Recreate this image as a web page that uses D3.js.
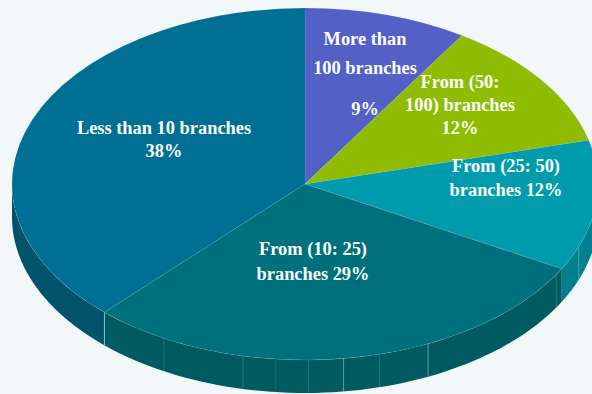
<!DOCTYPE html>
<html>
<head>
<meta charset="utf-8">
<script src="https://cdnjs.cloudflare.com/ajax/libs/d3/7.8.5/d3.min.js"></script>
<style>
html,body{margin:0;padding:0;background:#f2f7fa;overflow:hidden}
svg{display:block}
text{font-family:"Liberation Serif",serif;font-weight:700;fill:#fbfdfd;text-anchor:middle}
</style>
</head>
<body>
<svg id="chart" width="592" height="394"></svg>
<script>
// Share of banks by branch count, clockwise from twelve o'clock
const categories = ["More than 100 branches", "From (50: 100) branches", "From (25: 50) branches", "From (10: 25) branches", "Less than 10 branches"];
const shares = [9, 12, 12, 29, 38];
const topColors = ["#5560c6", "#8fbc00", "#009cae", "#00717c", "#006f94"];
const wallColors = ["#3d4690", "#688900", "#00818f", "#005b61", "#00536b"];
// Label lines and baselines, one list per slice
const labelLines = [["More than", "100 branches", "9%"], ["From (50:", "100) branches", "12%"], ["From (25: 50)", "branches 12%"], ["From (10: 25)", "branches 29%"], ["Less than 10 branches", "38%"]];
const labelX = [[365], [460], [506], [313], [164]];
const labelY = [[45, 74, 115], [88, 111, 134], [172, 196], [255, 280], [134, 157]];
// Facet seams on the rim, as fractions of a full turn
const seams = [0.308, 0.336, 0.431, 0.459, 0.479, 0.498, 0.516, 0.534, 0.58];
const seamOpacity = [0.35, 0.2, 0.45, 0.2, 0.45, 0.2, 0.1, 0.2, 0.15];

const cx = 305, cy = 184, rx = 293, ry = 176, depth = 33;
const svg = d3.select("#chart");

const rimPoint = (a, dy = 0) => [cx + rx * Math.sin(a), cy - ry * Math.cos(a) + dy];
const pie = d3.pie().sort(null)(shares);
const turn = d3.scaleLinear().domain([0, 1]).range([0, 2 * Math.PI]);

// Outer wall of each slice: only the part that faces the viewer
const wall = (d) => {
  const a0 = Math.max(d.startAngle, Math.PI / 2), a1 = Math.min(d.endAngle, 3 * Math.PI / 2);
  if (a1 <= a0) return null;
  const steps = d3.range(0, 61).map(i => a0 + (a1 - a0) * i / 60);
  return d3.line()([...steps.map(a => rimPoint(a)), ...steps.slice().reverse().map(a => rimPoint(a, depth))]) + "Z";
};

svg.append("g").selectAll("path").data(pie).join("path")
  .attr("d", wall).attr("fill", (d, i) => wallColors[i]);

// Seams between facets on the wall
svg.append("g").selectAll("line").data(seams).join("line")
  .attr("x1", f => rimPoint(turn(f))[0]).attr("y1", f => rimPoint(turn(f))[1])
  .attr("x2", f => rimPoint(turn(f), depth)[0]).attr("y2", f => rimPoint(turn(f), depth)[1])
  .attr("stroke", "#cfe4e6").attr("stroke-width", 1).attr("stroke-opacity", (f, i) => seamOpacity[i]);
const boundary = pie[3].endAngle;
svg.append("line")
  .attr("x1", rimPoint(boundary)[0]).attr("y1", rimPoint(boundary)[1])
  .attr("x2", rimPoint(boundary, depth)[0]).attr("y2", rimPoint(boundary, depth)[1])
  .attr("stroke", "#cfe4e6").attr("stroke-width", 1).attr("stroke-opacity", 0.6);

// Top face: a circular arc squashed into an ellipse
const arc = d3.arc().innerRadius(0).outerRadius(rx);
const topFace = svg.append("g").attr("transform", `translate(${cx},${cy}) scale(1,${ry / rx})`);
topFace.selectAll("path").data(pie).join("path")
  .attr("d", arc).attr("fill", (d, i) => topColors[i])
  .attr("stroke", "#cfe4e6").attr("stroke-opacity", 0.12).attr("stroke-width", 0.8)
  .attr("vector-effect", "non-scaling-stroke");

// Slice labels
const labels = svg.append("g").attr("font-size", 18.4);
labelLines.forEach((lines, i) => {
  labels.selectAll(null).data(lines).join("text")
    .attr("x", labelX[i][0]).attr("y", (d, j) => labelY[i][j]).text(d => d);
});
</script>
</body>
</html>
